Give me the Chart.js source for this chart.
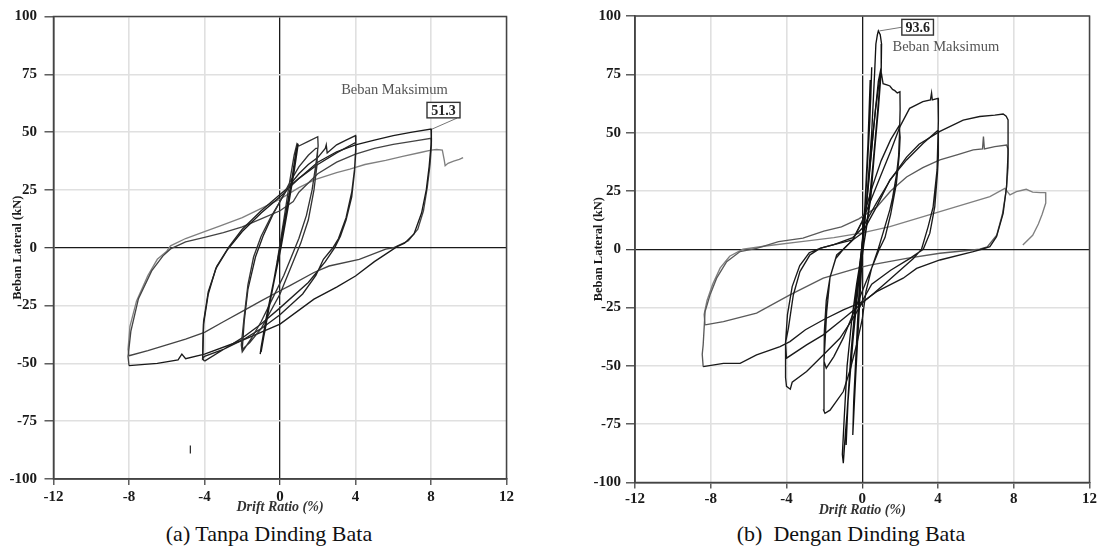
<!DOCTYPE html>
<html>
<head>
<meta charset="utf-8">
<script src="https://cdn.jsdelivr.net/npm/chart.js@4.4.1/dist/chart.umd.min.js"></script>
<style>
  html, body { margin: 0; padding: 0; background: #fff; }
  body { width: 1100px; height: 549px; position: relative; overflow: hidden; }
  .wrap { position: absolute; top: 0; width: 550px; height: 520px; }
  .cap { position: absolute; top: 520px; width: 400px; text-align: center; white-space: pre;
         font-family: 'Liberation Serif','Times New Roman',serif; font-size: 22px; line-height: 27px; color: #111; }
</style>
</head>
<body>
<div class="wrap" style="left:0px"><canvas id="ca" width="550" height="520"></canvas></div>
<div class="wrap" style="left:550px"><canvas id="cb" width="550" height="520"></canvas></div>
<div class="cap" style="left:69px">(a) Tanpa Dinding Bata</div>
<div class="cap" style="left:651px">(b)  Dengan Dinding Bata</div>
<script>
// ---------- axis ticks ----------
const xTicks = [-12, -8, -4, 0, 4, 8, 12];
const yTicks = [-100, -75, -50, -25, 0, 25, 50, 75, 100];

// ---------- (a) Tanpa Dinding Bata ----------
const aCyc1X = [0, 0.3, 0.6, 0.85, 0.95, 0.7, 0.35, 0, -0.3, -0.7, -1.0, -1.05, -0.8, -0.45, -0.1, 0.2, 0.5, 0.8, 0.95, 0.75, 0.4, 0.05, -0.35, -0.75, -1.0, -0.85, -0.5, -0.15];
const aCyc1Y = [0, 14, 28, 42, 45, 32, 14, 0, -13, -29, -43, -46, -36, -20, -5, 10, 24, 37, 44, 33, 16, 0, -16, -33, -45, -38, -22, -6];

const aCyc2X = [-0.15, 0.2, 0.5, 0.75, 0.9, 1.0, 1.5, 2.0, 2.02, 1.9, 1.7, 1.4, 1.0, 0.6, 0.2, -0.4, -1.0, -1.5, -2.0, -2.05, -1.9, -1.7, -1.4, -1.0, -0.5, 0, 0.5, 1.0, 1.5, 1.9, 2.0, 1.95, 1.8, 1.5, 1.1, 0.6, 0, -1.0, -1.6, -2.0];
const aCyc2Y = [-6, 12, 28, 40, 45, 44, 46, 48, 44, 36, 25, 14, 4, -4, -12, -22, -32, -39, -45, -42, -30, -16, -4, 5, 13, 20, 28, 35, 40, 43, 43, 35, 25, 12, 2, -8, -20, -35, -41, -44];

const aCyc3X = [-2.0, -1.9, -1.7, -1.3, -0.9, -0.4, 0, 0.5, 1.0, 1.5,
  2.0, 2.4, 2.45, 2.5, 3.0, 3.5, 4.0, 4.02, 3.95, 3.8,
  3.5, 3.1, 2.8, 2.3, 1.9, 1.2, 0, -1.0, -2.0, -3.0,
  -4.0, -4.1, -4.05, -3.8, -3.35, -2.7, -2.0, -1.0, 0, 1.0,
  2.0, 3.0, 4.0, 4.02, 3.95, 3.8, 3.5, 3.2, 2.9, 2.4,
  1.5, 0, -1.0, -2.0, -3.0, -4.0];
const aCyc3Y = [-44, -32, -18, -4, 5, 14, 20, 27, 32, 36,
  39, 43, 44.5, 41, 44.5, 46.5, 48.5, 44, 34, 24,
  13, 4, 0, -5, -12, -20, -29, -35, -40, -44,
  -47, -48, -32, -19, -8, 0.5, 8, 16, 23, 30,
  36, 41, 45.5, 42, 33, 22, 12, 5, 0, -6,
  -15, -26, -33, -39, -44, -49];

const aCyc4X = [-4.0, -4.1, -4.05, -3.8, -3.4, -2.8, -2.0, -1.0, 0, 1.0,
  2.0, 3.0, 4.0, 5.0, 6.0, 7.0, 8.0, 8.02, 7.9, 7.75,
  7.5, 7.1, 6.6, 6.2, 5.0, 4.0, 3.0, 1.8, 0, -2.0,
  -4.0, -5.0, -5.2, -5.4, -6.5, -8.0];
const aCyc4Y = [-49, -48, -33, -20, -9, -1, 7, 15, 22, 30,
  37, 41.5, 44.5, 46.5, 48.5, 50, 51.3, 46, 35, 25,
  15, 6, 2, 0.5, -6, -12.2, -17, -22.2, -33, -40,
  -46, -48, -46, -48.5, -50, -51];

const aCyc5X = [-8.0, -8.05, -7.9, -7.5, -6.8, -6.2, -5.8, -5.0, -4.0, -3.0,
  -2.0, -1.0, 0, 0.7, 1.0, 2.0, 3.0, 4.0, 5.0, 6.0,
  7.0, 8.0, 8.02, 7.95, 7.8, 7.6, 7.3, 6.8, 6.0, 5.6,
  4.2, 2.6, 1.8, 0.5, 0, -1.0, -2.0, -3.0, -4.0, -5.0,
  -6.0, -7.0, -8.0];
const aCyc5Y = [-51, -47, -36, -22, -10, -3.5, -0.5, 2.5, 4.5, 6.5,
  9, 12.5, 16, 20, 24, 32, 37, 40.5, 43, 44.7,
  46, 47.3, 44, 36, 26, 16, 8, 3, 0, -0.6,
  -5, -7.9, -10.7, -16.5, -18.6, -23, -27.5, -32, -36.6, -39.5,
  -42, -44.5, -46.7];

const aCyc6X = [-8.0, -8.05, -7.95, -7.6, -7.0, -6.5, -6.0, -5.8, -5.0, -4.0,
  -3.2, -2.0, -1.1, 0, 1.0, 1.85, 3.0, 3.7, 4.5, 5.6,
  6.5, 7.5, 8.0, 8.3, 8.6, 8.7, 8.75, 8.9, 9.2, 9.5,
  9.7];
const aCyc6Y = [-46.7, -44, -34, -23, -12, -5, -1.5, 0.8, 4, 7,
  9.4, 13, 16.6, 21, 26, 29.5, 32.5, 34, 36, 37.8,
  39.5, 41.3, 42.2, 42.5, 42.2, 38, 35.5, 36.5, 37.5, 38.2,
  39];

const aMarkX = [-4.75, -4.75];
const aMarkY = [-85.5, -89];
const peakA = [8, 51.3];

// ---------- (b) Dengan Dinding Bata ----------
const bCyc1X = [0, 0.15, 0.3, 0.45, 0.5, 0.4, 0.2, 0, -0.15, -0.3,
  -0.45, -0.5, -0.35, -0.15, 0, 0.2, 0.35, 0.42, 0.3, 0.1,
  -0.1, -0.3, -0.47, -0.4, -0.2, 0];
const bCyc1Y = [0, 20, 42, 65, 78, 55, 25, 3, -15, -40,
  -65, -79.6, -55, -25, -2, 25, 55, 72.6, 45, 12,
  -12, -45, -75, -60, -28, 0];

const bCyc2X = [0, 0.25, 0.5, 0.65, 0.72, 0.8, 0.85, 0.95, 1.02, 1.0,
  0.85, 0.65, 0.45, 0.2, 0, -0.2, -0.45, -0.7, -0.9, -1.0,
  -1.05, -0.95, -0.8, -0.55, -0.3, -0.1, 0, 0.3, 0.6, 0.85,
  1.0, 0.8, 0.55, 0.3, 0.05, -0.2, -0.5, -0.75, -0.85, -0.8,
  -0.6, -0.35, -0.15];
const bCyc2Y = [0, 22, 50, 75, 88, 92, 93.6, 92, 88, 76,
  60, 42, 22, 8, -2, -15, -35, -60, -80, -91.7,
  -88, -72, -50, -30, -15, -5, 2, 25, 52, 72,
  78, 58, 35, 15, 0, -15, -40, -65, -83.9, -70,
  -45, -22, -8];

const bCyc3X = [-0.15, 0.1, 0.4, 0.7, 0.9, 1.02, 1.1, 1.3, 1.46, 1.6,
  1.72, 1.85, 1.99, 2.0, 1.97, 1.92, 1.81, 1.6, 1.46, 1.1,
  0.84, 0.5, 0.2, 0, -0.3, -0.65, -1.0, -1.35, -1.7, -1.97,
  -2.04, -2.02, -1.88, -1.7, -1.35, -1.0, -0.5, 0, 0.5, 1.0,
  1.5, 1.95, 2.0, 1.95, 1.8, 1.5, 1.2, 0.9, 0.5, 0,
  -0.5, -1.0, -1.5, -1.9, -2.02, -2.0, -1.9, -1.7, -1.4, -1.0];
const bCyc3Y = [-8, 10, 35, 60, 72, 75, 71, 70.5, 70, 68.5,
  68, 67, 67.5, 60, 50, 40, 32, 22, 17, 7,
  0, -8, -18, -30, -41, -52, -61, -65, -69, -70.3,
  -69, -48, -27, -12, -2.4, 0, 4, 12, 26, 38,
  47, 53, 48, 40, 28, 15, 5, 0, -8, -18,
  -28, -38, -46, -51, -48, -35, -22, -12, -4, 0];

const bCyc4X = [-1.0, -0.5, 0, 0.5, 1.0, 1.5, 1.99, 2.5, 3.2, 3.6,
  3.66, 3.7, 4.0, 4.02, 3.95, 3.74, 3.48, 3.13, 2.7, 2.0,
  1.3, 0.6, 0, -0.6, -1.18, -2.06, -2.94, -3.7, -3.8, -4.0,
  -4.05, -4.05, -3.9, -3.64, -3.29, -2.76, -2.23, -1.5, -0.5, 0,
  0.76, 1.46, 2.34, 3.22, 4.0, 4.02, 3.97, 3.83, 3.57, 3.22,
  2.5, 1.5, 0.5, -0.12, -1.18, -2.06, -2.94, -4.0, -4.05, -3.95,
  -3.7, -3.3, -2.8, -2.2];
const bCyc4Y = [0, 4, 12, 22, 32, 42, 52.6, 60.4, 63.3, 64,
  67, 64, 64.7, 55, 34, 18, 9.7, 0, -4, -9,
  -14, -19, -23, -31, -38.2, -45.3, -52.4, -57, -60, -58.8,
  -55, -40, -33.9, -19.6, -9.6, -2.4, 0.4, 2, 4, 7,
  18.3, 29.7, 38.3, 45.4, 51, 40, 32.6, 18.3, 6.9, 0,
  -4, -9, -15, -23.9, -31, -36.7, -41, -46.7, -40, -28,
  -16, -7, -1.5, 0.5];

const bCyc5X = [-2.2, -1.5, -0.5, 0, 0.76, 1.5, 2.34, 3.0, 4.1, 5.33,
  6.2, 7.0, 7.44, 7.6, 7.7, 7.7, 7.62, 7.44, 7.09, 6.74,
  6.3, 5.86, 4.1, 2.87, 2.16, 1.46, 0.76, 0.05, -1.0, -2.0,
  -3.0, -3.82, -4.34, -5.58, -6.45, -7.33, -8.4];
const bCyc5Y = [0.5, 2, 5, 9, 20, 30, 39.5, 45, 50.5, 55.4,
  56.9, 57.5, 58, 57, 55.4, 41, 26.9, 15.4, 5.4, 1.1,
  0, -1, -4.6, -8.2, -12.4, -15.3, -18.2, -22.4, -26, -30,
  -34.5, -39.6, -41.7, -45.3, -48.9, -48.9, -50.3];

const bCyc6X = [-8.4, -8.45, -8.4, -8.3, -8.04, -7.69, -7.16, -6.45, -5.58, -4.42,
  -3.13, -2.03, -1.1, -0.18, 0.76, 1.5, 2.34, 3.2, 4.1, 5.0,
  5.86, 6.35, 6.4, 6.45, 7.0, 7.62, 7.7, 7.7, 7.6, 7.4,
  7.1, 6.6, 6.2, 4.1, 2.34, 0.4, -0.3, -2.06, -3.82, -5.58,
  -7.33, -8.3];
const bCyc6Y = [-50.3, -45, -41, -26.7, -19.6, -12.4, -5.3, -1, 0.4, 3.3,
  4.8, 7.8, 9.6, 13, 18, 25, 31, 35, 38.3, 40.5,
  42.6, 43, 48.3, 43, 44, 44.7, 43, 35, 25, 15,
  6, 1, 0, -1.7, -3.9, -6.8, -8.2, -12.4, -19.6, -27.4,
  -31, -32.4];

const bCyc7X = [-8.3, -8.35, -8.2, -7.9, -7.5, -7.0, -6.3, -5.0, -3.0, -1.5,
  0, 1.46, 3.22, 4.98, 6.74, 7.53, 7.8, 8.14, 8.5, 8.66,
  9.0, 9.4, 9.68, 9.7, 9.68, 9.5, 9.3, 9.0, 8.48];
const bCyc7Y = [-32.4, -28, -22, -15, -8, -3, 0, 1.5, 3.5, 5,
  7, 9.7, 14, 18.3, 22.6, 26.1, 23.3, 24.7, 25.4, 25.7,
  24.5, 24.3, 24.3, 23, 19.8, 15, 10.8, 6, 1.8];

const peakB = [0.85, 93.6];

// ---------- helpers ----------
const SERIF = "'Liberation Serif','Times New Roman',serif";
function series(xs, ys) {
  const n = Math.min(xs.length, ys.length);
  const out = [];
  for (let i = 0; i < n; i++) out.push({ x: xs[i], y: ys[i] });
  return out;
}
function ds(xs, ys, color, w) {
  return { data: series(xs, ys), borderColor: color, borderWidth: w || 1.35,
           showLine: true, pointRadius: 0, tension: 0, fill: false };
}

const framePlugin = {
  id: 'frame',
  afterDatasetsDraw(chart) {
    const a = chart.chartArea, c = chart.ctx;
    c.save();
    c.strokeStyle = '#444';
    c.lineWidth = 1.5;
    c.strokeRect(a.left, a.top, a.right - a.left, a.bottom - a.top);
    c.restore();
  }
};

const annotPlugin = {
  id: 'annot',
  afterDatasetsDraw(chart, args, opts) {
    const c = chart.ctx;
    const px = chart.scales.x.getPixelForValue(opts.peak[0]);
    const py = chart.scales.y.getPixelForValue(opts.peak[1]);
    c.save();
    c.strokeStyle = '#777';
    c.lineWidth = 1;
    c.beginPath();
    c.moveTo(px + opts.lineFrom[0], py + opts.lineFrom[1]);
    c.lineTo(px + 1, py);
    c.stroke();
    const bx = px + opts.box[0], by = py + opts.box[1];
    const bw = opts.box[2], bh = opts.box[3];
    c.fillStyle = '#fff';
    c.fillRect(bx - bw / 2, by - bh / 2, bw, bh);
    c.strokeStyle = '#333';
    c.lineWidth = 1.4;
    c.strokeRect(bx - bw / 2, by - bh / 2, bw, bh);
    c.fillStyle = '#222';
    c.font = 'bold 14px ' + SERIF;
    c.textAlign = 'center';
    c.textBaseline = 'middle';
    c.fillText(opts.peak[1].toFixed(1), bx, by + 1);
    c.fillStyle = '#555';
    c.font = '14.5px ' + SERIF;
    c.fillText('Beban Maksimum', px + opts.text[0], py + opts.text[1]);
    c.restore();
  }
};

function makeChart(id, datasets, L) {
  const tickFont = { family: SERIF, size: 15, weight: 'bold' };
  return new Chart(document.getElementById(id), {
    type: 'scatter',
    data: { datasets },
    options: {
      animation: false,
      responsive: false,
      devicePixelRatio: 1,
      layout: { padding: { left: 0, top: L.top, right: L.right, bottom: 0 } },
      plugins: { legend: { display: false }, tooltip: { enabled: false }, annot: L.annot },
      scales: {
        x: {
          type: 'linear', position: 'bottom', min: xTicks[0], max: xTicks[xTicks.length - 1],
          afterBuildTicks: s => { s.ticks = xTicks.map(v => ({ value: v })); },
          ticks: { font: tickFont, color: '#1a1a1a', padding: L.xTickPad, maxRotation: 0, callback: v => String(v) },
          grid: {
            color: c => (c.tick && c.tick.value === 0) ? '#1a1a1a' : '#e0e0e0',
            lineWidth: c => (c.tick && c.tick.value === 0) ? 1.3 : 1.6,
            tickColor: '#444', tickLength: 6, tickWidth: 1.3
          },
          border: { color: '#444', width: 1.5 },
          title: { display: true, text: 'Drift Ratio (%)', color: '#333',
                   font: { family: SERIF, size: 14, weight: 'bold', style: 'italic' },
                   padding: { top: 0, bottom: L.xTitlePad } },
          afterFit: s => { s.height = L.xH; }
        },
        y: {
          type: 'linear', position: 'left', min: yTicks[0], max: yTicks[yTicks.length - 1],
          afterBuildTicks: s => { s.ticks = yTicks.map(v => ({ value: v })); },
          ticks: { font: tickFont, color: '#1a1a1a', padding: L.yTickPad, callback: v => String(v) },
          grid: {
            color: c => (c.tick && c.tick.value === 0) ? '#1a1a1a' : '#e0e0e0',
            lineWidth: c => (c.tick && c.tick.value === 0) ? 1.3 : 1.6,
            tickColor: '#444', tickLength: 9, tickWidth: 1.3
          },
          border: { color: '#444', width: 1.5 },
          title: { display: true, text: 'Beban Lateral (kN)', color: '#1a1a1a',
                   font: { family: SERIF, size: 12.5, weight: 'bold' },
                   padding: { top: L.yTitlePad, bottom: 0 } },
          afterFit: s => { s.width = L.yW; }
        }
      }
    },
    plugins: [framePlugin, annotPlugin]
  });
}

makeChart('ca', [
  ds(aCyc1X, aCyc1Y, '#1a1a1a'),
  ds(aCyc2X, aCyc2Y, '#333'),
  ds(aCyc3X, aCyc3Y, '#222'),
  ds(aCyc4X, aCyc4Y, '#1a1a1a'),
  ds(aCyc5X, aCyc5Y, '#444'),
  ds(aCyc6X, aCyc6Y, '#808080'),
  ds(aMarkX, aMarkY, '#222', 1.2)
], {
  top: 15.5, right: 43.5, yW: 53.5, xH: 41,
  xTickPad: 3, xTitlePad: 4, yTickPad: 7.5, yTitlePad: 10,
  annot: { peak: peakA, box: [12.5, -19, 33, 15.5], lineFrom: [26, -11], text: [-36.5, -39] }
});

makeChart('cb', [
  ds(bCyc1X, bCyc1Y, '#111'),
  ds(bCyc2X, bCyc2Y, '#111'),
  ds(bCyc3X, bCyc3Y, '#1a1a1a'),
  ds(bCyc4X, bCyc4Y, '#1a1a1a'),
  ds(bCyc5X, bCyc5Y, '#1a1a1a'),
  ds(bCyc6X, bCyc6Y, '#5a5a5a'),
  ds(bCyc7X, bCyc7Y, '#808080')
], {
  top: 16, right: 10.5, yW: 85, xH: 37.5,
  xTickPad: 1.5, xTitlePad: 1.3, yTickPad: 5, yTitlePad: 41.5,
  annot: { peak: peakB, box: [39.3, -3.7, 31.6, 15.7], lineFrom: [23.5, -3.7], text: [67.5, 16.4] }
});
</script>
</body>
</html>
